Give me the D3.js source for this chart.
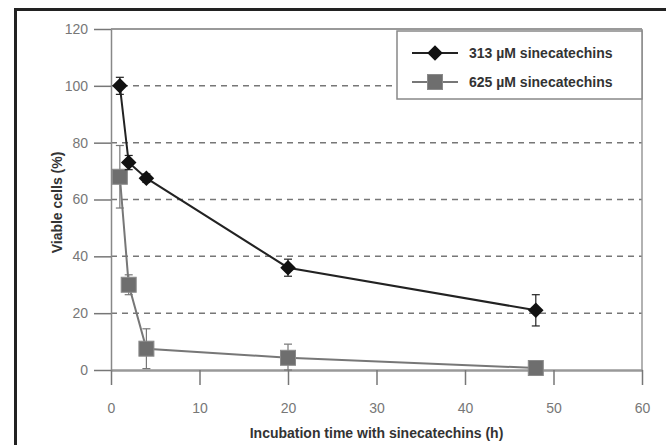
<!DOCTYPE html>
<html lang="en">
<head>
    <meta charset="UTF-8">
    <title>Viable cells vs incubation time</title>
    <script src="https://d3js.org/d3.v7.min.js"></script>
    <style>
        body { margin: 0; background: #fff; }
        svg { display: block; font-family: "Liberation Sans", Arial, sans-serif; }
        .tick text { fill: #777; font-size: 14px; }
        .axis-title { fill: #333; font-size: 14px; font-weight: bold; }
        .legend text { fill: #333; font-size: 14px; font-weight: bold; }
    </style>
</head>
<body>
<svg width="666" height="445"></svg>
<script>
// data
const hours = [1, 2, 4, 20, 48];
const low = [100, 73, 67.5, 36, 21];       // 313 µM
const lowErr = [3, 2.5, 1.5, 3, 5.5];
const high = [68, 30, 7.5, 4.3, 0.7];      // 625 µM
const highErr = [11, 3.5, 7, 4.8, 1];
const seriesNames = ["313 \u00b5M sinecatechins", "625 \u00b5M sinecatechins"];
const yTicks = [0, 20, 40, 60, 80, 100, 120];
const xTicks = [0, 10, 20, 30, 40, 50, 60];

const svg = d3.select("svg");
const margin = { top: 29, right: 24, bottom: 75, left: 111 };
const W = 666, H = 445;
const x = d3.scaleLinear().domain([0, 60]).range([margin.left, W - margin.right]);
const y = d3.scaleLinear().domain([0, 120]).range([H - margin.bottom, margin.top]);

// outer frame (right/bottom edges fall outside the picture)
svg.append("rect")
    .attr("x", 15.5).attr("y", 9.5)
    .attr("width", 700).attr("height", 500)
    .attr("fill", "none").attr("stroke", "#222").attr("stroke-width", 3);

// dashed grid
svg.append("g").selectAll("line")
    .data(yTicks.filter(d => d > 0 && d < 120))
    .join("line")
    .attr("x1", x(0)).attr("x2", x(60))
    .attr("y1", d => y(d)).attr("y2", d => y(d))
    .attr("stroke", "#777").attr("stroke-width", 1.5)
    .attr("stroke-dasharray", "6,5");

// top and right border of plot
svg.append("line")
    .attr("x1", x(0)).attr("x2", x(60)).attr("y1", y(120)).attr("y2", y(120))
    .attr("stroke", "#999").attr("stroke-width", 2);
svg.append("line")
    .attr("x1", x(60)).attr("x2", x(60)).attr("y1", y(120)).attr("y2", y(0))
    .attr("stroke", "#999").attr("stroke-width", 1.5);

// axes
const xAxis = svg.append("g")
    .attr("transform", `translate(0,${y(0)})`)
    .call(d3.axisBottom(x).tickValues(xTicks).tickSize(15).tickPadding(18).tickSizeOuter(0));
const yAxis = svg.append("g")
    .attr("transform", `translate(${x(0)},0)`)
    .call(d3.axisLeft(y).tickValues(yTicks).tickSize(17).tickPadding(6).tickSizeOuter(0));
xAxis.select(".domain").attr("stroke", "#999").attr("stroke-width", 2.5);
yAxis.select(".domain").attr("stroke", "#888").attr("stroke-width", 1.5);
xAxis.selectAll(".tick line").attr("stroke", "#777").attr("stroke-width", 1.5);
yAxis.selectAll(".tick line").attr("stroke", "#777").attr("stroke-width", 1.5);

svg.append("text").attr("class", "axis-title")
    .attr("x", (x(0) + x(60)) / 2).attr("y", 438)
    .attr("text-anchor", "middle")
    .text("Incubation time with sinecatechins (h)");
svg.append("text").attr("class", "axis-title")
    .attr("transform", `translate(62,${(y(0) + y(120)) / 2 + 3}) rotate(-90)`)
    .attr("text-anchor", "middle")
    .text("Viable cells (%)");

const line = d3.line().x(d => x(d[0])).y(d => y(d[1]));

function drawSeries(vals, errs, lineColor, lineWidth, kind) {
    const pts = hours.map((h, i) => [h, vals[i], errs[i]]);
    const g = svg.append("g");
    // error bars
    g.selectAll(".eb").data(pts).join("g").each(function (d) {
        const e = d3.select(this);
        const cx = x(d[0]);
        e.append("line").attr("x1", cx).attr("x2", cx)
            .attr("y1", y(d[1] + d[2])).attr("y2", y(Math.max(0, d[1] - d[2])))
            .attr("stroke", lineColor).attr("stroke-width", 1.2);
        [d[1] + d[2], Math.max(0, d[1] - d[2])].forEach(v => {
            e.append("line").attr("x1", cx - 4).attr("x2", cx + 4)
                .attr("y1", y(v)).attr("y2", y(v))
                .attr("stroke", lineColor).attr("stroke-width", 1.2);
        });
    });
    g.append("path").datum(pts).attr("d", line)
        .attr("fill", "none").attr("stroke", lineColor).attr("stroke-width", lineWidth);
    if (kind === "diamond") {
        g.selectAll(".m").data(pts).join("rect")
            .attr("x", -5.5).attr("y", -5.5).attr("width", 11).attr("height", 11)
            .attr("transform", d => `translate(${x(d[0])},${y(d[1])}) rotate(45)`)
            .attr("fill", "#111");
    } else {
        g.selectAll(".m").data(pts).join("rect")
            .attr("x", d => x(d[0]) - 7.5).attr("y", d => y(d[1]) - 7.5)
            .attr("width", 15).attr("height", 15)
            .attr("fill", "#6e6e6e").attr("stroke", "#8a8a8a").attr("stroke-width", 1);
    }
}

drawSeries(high, highErr, "#777", 2, "square");
drawSeries(low, lowErr, "#222", 2, "diamond");

// legend
const lg = svg.append("g").attr("class", "legend");
lg.append("rect")
    .attr("x", 397).attr("y", 31).attr("width", 245).attr("height", 68)
    .attr("fill", "#fff").attr("stroke", "#888").attr("stroke-width", 1.5);
const rows = [
    { name: seriesNames[0], color: "#222", kind: "diamond", yy: 53 },
    { name: seriesNames[1], color: "#777", kind: "square", yy: 82 }
];
rows.forEach(r => {
    lg.append("line").attr("x1", 412).attr("x2", 458).attr("y1", r.yy).attr("y2", r.yy)
        .attr("stroke", r.color).attr("stroke-width", 2);
    if (r.kind === "diamond") {
        lg.append("rect").attr("x", -5.5).attr("y", -5.5).attr("width", 11).attr("height", 11)
            .attr("transform", `translate(435,${r.yy}) rotate(45)`).attr("fill", "#111");
    } else {
        lg.append("rect").attr("x", 435 - 7.5).attr("y", r.yy - 7.5).attr("width", 15).attr("height", 15)
            .attr("fill", "#6e6e6e").attr("stroke", "#8a8a8a");
    }
    lg.append("text").attr("x", 469).attr("y", r.yy + 5).text(r.name);
});
</script>
</body>
</html>
